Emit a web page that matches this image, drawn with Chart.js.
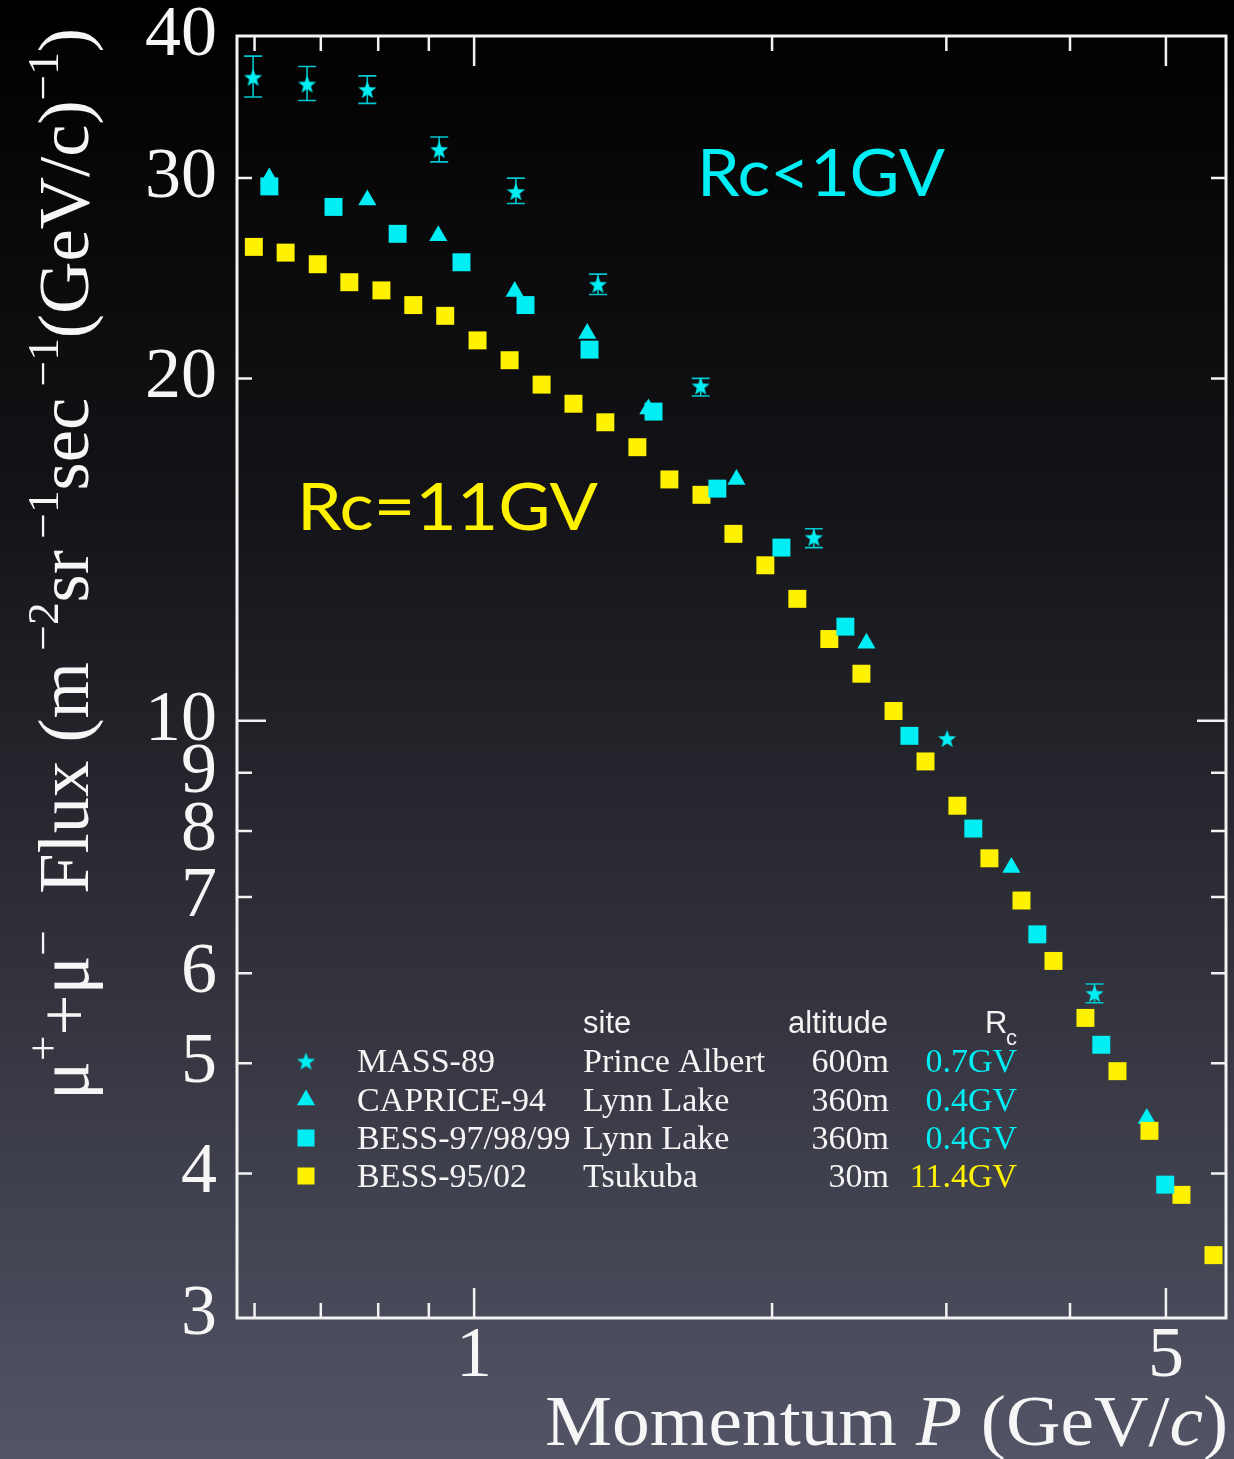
<!DOCTYPE html>
<html lang="en">
<head>
<meta charset="UTF-8">
<title>Muon flux vs momentum</title>
<style>
  html, body { margin: 0; padding: 0; background: #000; }
  #wrap { width: 1234px; height: 1459px; }
</style>
<script src="https://cdn.jsdelivr.net/npm/chart.js"></script>
</head>
<body>
<div id="wrap"><canvas id="fluxChart" width="1234" height="1459"></canvas></div>
<script>
// values: momentum P in GeV/c, flux in m^-2 sr^-1 s^-1 (GeV/c)^-1
const massP      = [0.598, 0.678, 0.780, 0.922, 1.102, 1.334, 1.694, 2.204, 3.005, 4.235];
const massFlux   = [36.8, 36.3, 35.9, 31.8, 29.2, 24.2, 19.7, 14.5, 9.65, 5.76];
const massErrHi  = [38.4, 37.6, 36.9, 32.6, 30.0, 24.7, 20.0, 14.75, null, 5.87];
const massErrLo  = [35.35, 35.1, 34.9, 31.0, 28.5, 23.7, 19.3, 14.2, null, 5.65];

const capriceP    = [0.621, 0.780, 0.920, 1.099, 1.301, 1.500, 1.841, 2.491, 3.490, 4.782];
const capriceFlux = [30.0, 28.7, 26.7, 23.85, 21.9, 18.8, 16.3, 11.7, 7.43, 4.47];

const bessLynnP    = [0.621, 0.721, 0.837, 0.971, 1.127, 1.308, 1.518, 1.761, 2.044, 2.372, 2.753, 3.194, 3.707, 4.302, 4.992];
const bessLynnFlux = [29.5, 28.3, 26.8, 25.3, 23.2, 21.2, 18.7, 16.0, 14.2, 12.1, 9.70, 8.04, 6.49, 5.19, 3.91];

const bessTsukP    = [0.599, 0.645, 0.695, 0.748, 0.806, 0.868, 0.935, 1.008, 1.086, 1.170, 1.260, 1.357, 1.462, 1.575, 1.697, 1.828,
                      1.969, 2.121, 2.285, 2.462, 2.653, 2.858, 3.078, 3.316, 3.573, 3.849, 4.146, 4.467, 4.812, 5.184, 5.585];
const bessTsukFlux = [26.1, 25.8, 25.2, 24.3, 23.9, 23.2, 22.7, 21.6, 20.75, 19.75, 19.0, 18.3, 17.4, 16.3, 15.8, 14.6,
                      13.7, 12.8, 11.8, 11.0, 10.2, 9.21, 8.42, 7.57, 6.95, 6.15, 5.48, 4.92, 4.36, 3.83, 3.39];

// axes
const xLabelTicks = [1, 5];
const xTickMarks  = [0.6, 0.7, 0.8, 0.9, 1, 2, 3, 4, 5];
const xLongTicks  = [1, 5];
const yLabelTicks = [3, 4, 5, 6, 7, 8, 9, 10, 20, 30, 40];
const yLongTicks  = [10];

// legend table
const legendNames = ['MASS-89', 'CAPRICE-94', 'BESS-97/98/99', 'BESS-95/02'];
const legendSites = ['Prince Albert', 'Lynn Lake', 'Lynn Lake', 'Tsukuba'];
const legendAlt   = ['600m', '360m', '360m', '30m'];
const legendRc    = ['0.7GV', '0.4GV', '0.4GV', '11.4GV'];

const CYAN = '#00eef4';
const YELLOW = '#fff200';
const SERIF = '"Liberation Serif", "DejaVu Serif", serif';
const SANS = '"Liberation Sans", Arial, sans-serif';
const GEO = 'Lato, "Noto Sans", sans-serif';
const legendColors = [CYAN, CYAN, CYAN, YELLOW];
const legendShapes = ['star', 'triangle', 'rect', 'rect'];

function makeStar(outer, inner, color) {
  const c = document.createElement('canvas');
  const s = Math.ceil(outer * 2 + 2);
  c.width = s; c.height = s;
  const g = c.getContext('2d');
  g.fillStyle = color;
  g.beginPath();
  for (let i = 0; i < 10; i++) {
    const r = i % 2 ? inner : outer;
    const a = -Math.PI / 2 + i * Math.PI / 5;
    const px = s / 2 + r * Math.cos(a), py = s / 2 + 1 + r * Math.sin(a);
    if (i) g.lineTo(px, py); else g.moveTo(px, py);
  }
  g.closePath();
  g.fill();
  return c;
}
const starImg = makeStar(9.5, 4, CYAN);

function pts(xs, ys) {
  return xs.map((x, i) => ({x: x, y: ys[i]}));
}

// mixed text: parts are [text, kind], kind n / i (italic) / sup
function drawRich(ctx, parts, x, y, size, targetWidth) {
  const fontFor = k => k === 'sup' ? `${Math.round(size * 0.62)}px ${SERIF}`
    : k === 'i' ? `italic ${size}px ${SERIF}` : `${size}px ${SERIF}`;
  let w = 0;
  parts.forEach(([t, k]) => { ctx.font = fontFor(k); w += ctx.measureText(t).width; });
  const sx = targetWidth ? targetWidth / w : 1;
  ctx.save();
  ctx.translate(x, y);
  ctx.scale(sx, 1);
  ctx.textAlign = 'left';
  ctx.textBaseline = 'alphabetic';
  let cx = 0;
  parts.forEach(([t, k]) => {
    ctx.font = fontFor(k);
    ctx.fillText(t, cx, k === 'sup' ? -size * 0.42 : 0);
    cx += ctx.measureText(t).width;
  });
  ctx.restore();
}

function fitText(ctx, text, x, y, font, color, targetWidth) {
  ctx.save();
  ctx.font = font;
  ctx.fillStyle = color;
  ctx.textBaseline = 'alphabetic';
  const w = ctx.measureText(text).width;
  ctx.translate(x, y);
  ctx.scale(targetWidth / w, 1);
  ctx.fillText(text, 0, 0);
  ctx.restore();
}

const bgPlugin = {
  id: 'bg',
  beforeDraw(chart) {
    const {ctx, width, height} = chart;
    const g = ctx.createLinearGradient(0, 0, 0, height);
    g.addColorStop(0, '#000000');
    g.addColorStop(0.35, '#141418');
    g.addColorStop(0.7, '#34353f');
    g.addColorStop(1, '#535466');
    ctx.save();
    ctx.fillStyle = g;
    ctx.fillRect(0, 0, width, height);
    ctx.restore();
  }
};

// box with inward ticks on all four sides
const framePlugin = {
  id: 'frame',
  beforeDatasetsDraw(chart) {
    const {ctx, chartArea: a, scales: {x, y}} = chart;
    ctx.save();
    ctx.strokeStyle = '#f2f2f2';
    ctx.lineWidth = 3;
    ctx.strokeRect(a.left, a.top, a.right - a.left, a.bottom - a.top);
    ctx.lineWidth = 2.5;
    ctx.beginPath();
    xTickMarks.forEach(v => {
      const px = x.getPixelForValue(v);
      const len = xLongTicks.includes(v) ? 30 : 15;
      ctx.moveTo(px, a.bottom); ctx.lineTo(px, a.bottom - len);
      ctx.moveTo(px, a.top); ctx.lineTo(px, a.top + len);
    });
    yLabelTicks.forEach(v => {
      if (v === 40 || v === 3) return;
      const py = y.getPixelForValue(v);
      const len = yLongTicks.includes(v) ? 29 : 15;
      ctx.moveTo(a.left, py); ctx.lineTo(a.left + len, py);
      ctx.moveTo(a.right, py); ctx.lineTo(a.right - len, py);
    });
    ctx.stroke();
    ctx.restore();
  }
};

const errorBarPlugin = {
  id: 'errbars',
  beforeDatasetsDraw(chart) {
    const {ctx, scales: {x, y}} = chart;
    ctx.save();
    ctx.strokeStyle = '#00c8d0';
    ctx.lineWidth = 1.6;
    ctx.beginPath();
    massP.forEach((p, i) => {
      if (massErrHi[i] == null) return;
      const px = x.getPixelForValue(p);
      const hi = y.getPixelForValue(massErrHi[i]);
      const lo = y.getPixelForValue(massErrLo[i]);
      ctx.moveTo(px, hi); ctx.lineTo(px, lo);
      ctx.moveTo(px - 9, hi); ctx.lineTo(px + 9, hi);
      ctx.moveTo(px - 9, lo); ctx.lineTo(px + 9, lo);
    });
    ctx.stroke();
    ctx.restore();
  }
};

function drawMarker(ctx, shape, color, cx, cy) {
  ctx.fillStyle = color;
  if (shape === 'star') {
    ctx.drawImage(starImg, cx - starImg.width / 2, cy - starImg.height / 2);
  } else if (shape === 'triangle') {
    const r = 10.5;
    ctx.beginPath();
    ctx.moveTo(cx, cy - r);
    ctx.lineTo(cx + r * 0.866, cy + r / 2);
    ctx.lineTo(cx - r * 0.866, cy + r / 2);
    ctx.closePath();
    ctx.fill();
  } else {
    ctx.fillRect(cx - 8.5, cy - 8.5, 17, 17);
  }
}

const textPlugin = {
  id: 'texts',
  afterDraw(chart) {
    const ctx = chart.ctx;
    ctx.save();
    ctx.fillStyle = '#f6f6f6';

    // x title
    drawRich(ctx, [['Momentum ', 'n'], ['P', 'i'], [' (GeV/', 'n'], ['c', 'i'], [')', 'n']], 545, 1445, 72, 683);

    // y title, rotated
    ctx.save();
    ctx.translate(88, 1100);
    ctx.rotate(-Math.PI / 2);
    drawRich(ctx, [
      ['\u03bc', 'n'], ['+', 'sup'], ['+\u03bc', 'n'], ['\u2212', 'sup'],
      ['  Flux (m', 'n'], [' \u22122', 'sup'], ['sr', 'n'], [' \u22121', 'sup'],
      ['sec', 'n'], [' \u22121', 'sup'], ['(GeV/c)', 'n'], ['\u22121', 'sup'], [')', 'n']
    ], 0, 0, 72, 1072);
    ctx.restore();

    // region annotations
    fitText(ctx, 'Rc<1GV', 697, 196, `400 66px ${GEO}`, CYAN, 248);
    fitText(ctx, 'Rc=11GV', 297, 530, `400 66px ${GEO}`, YELLOW, 301);

    // legend header
    ctx.fillStyle = '#f2f2f2';
    ctx.font = `31px ${SANS}`;
    ctx.textAlign = 'left';
    ctx.fillText('site', 583, 1033);
    ctx.textAlign = 'right';
    ctx.fillText('altitude', 888, 1033);
    ctx.textAlign = 'left';
    ctx.fillText('R', 985, 1033);
    ctx.font = `22px ${SANS}`;
    ctx.fillText('c', 1006, 1045);

    // legend rows
    const rowBase = [1072, 1111, 1149, 1187];
    legendNames.forEach((name, i) => {
      const b = rowBase[i];
      drawMarker(ctx, legendShapes[i], legendColors[i], 306, b - 11);
      ctx.font = `34px ${SERIF}`;
      ctx.fillStyle = '#f4f4f4';
      ctx.textAlign = 'left';
      ctx.fillText(name, 357, b);
      ctx.fillText(legendSites[i], 583, b);
      ctx.textAlign = 'right';
      ctx.fillText(legendAlt[i], 889, b);
      ctx.fillStyle = legendColors[i];
      ctx.fillText(legendRc[i], 1017, b);
    });
    ctx.restore();
  }
};

const tickFont = {family: SERIF, size: 72};

function noPad(s) {
  s.paddingTop = 0; s.paddingBottom = 0; s.paddingLeft = 0; s.paddingRight = 0;
}

new Chart(document.getElementById('fluxChart').getContext('2d'), {
  type: 'scatter',
  data: {
    datasets: [
      { label: 'MASS-89', data: pts(massP, massFlux), pointStyle: starImg, pointRadius: 8, order: 1 },
      { label: 'CAPRICE-94', data: pts(capriceP, capriceFlux), pointStyle: 'triangle', pointRadius: 10.5,
        backgroundColor: CYAN, borderWidth: 0, order: 4 },
      { label: 'BESS-97/98/99', data: pts(bessLynnP, bessLynnFlux), pointStyle: 'rect', pointRadius: 12.7,
        backgroundColor: CYAN, borderWidth: 0, order: 2 },
      { label: 'BESS-95/02', data: pts(bessTsukP, bessTsukFlux), pointStyle: 'rect', pointRadius: 12.7,
        backgroundColor: YELLOW, borderWidth: 0, order: 3 }
    ]
  },
  options: {
    responsive: false,
    animation: false,
    devicePixelRatio: 1,
    events: [],
    layout: { autoPadding: false, padding: { top: 36, right: 8, left: 0, bottom: 0 } },
    plugins: { legend: { display: false }, tooltip: { enabled: false } },
    scales: {
      x: {
        type: 'logarithmic', min: 0.576, max: 5.75,
        grid: { display: false, drawTicks: false }, border: { display: false },
        afterBuildTicks: s => { s.ticks = xLabelTicks.map(v => ({value: v})); },
        afterFit: s => { s.height = 141; noPad(s); },
        ticks: { color: '#f6f6f6', font: tickFont, padding: -4, autoSkip: false, maxRotation: 0,
                 callback: v => String(v) }
      },
      y: {
        type: 'logarithmic', min: 2.985, max: 40,
        grid: { display: false, drawTicks: false }, border: { display: false },
        afterBuildTicks: s => { s.ticks = yLabelTicks.map(v => ({value: v})); },
        afterFit: s => { s.width = 237; noPad(s); },
        ticks: { color: '#f6f6f6', font: tickFont, padding: 20, autoSkip: false,
                 callback: v => String(v) }
      }
    }
  },
  plugins: [bgPlugin, framePlugin, errorBarPlugin, textPlugin]
});
</script>
</body>
</html>
